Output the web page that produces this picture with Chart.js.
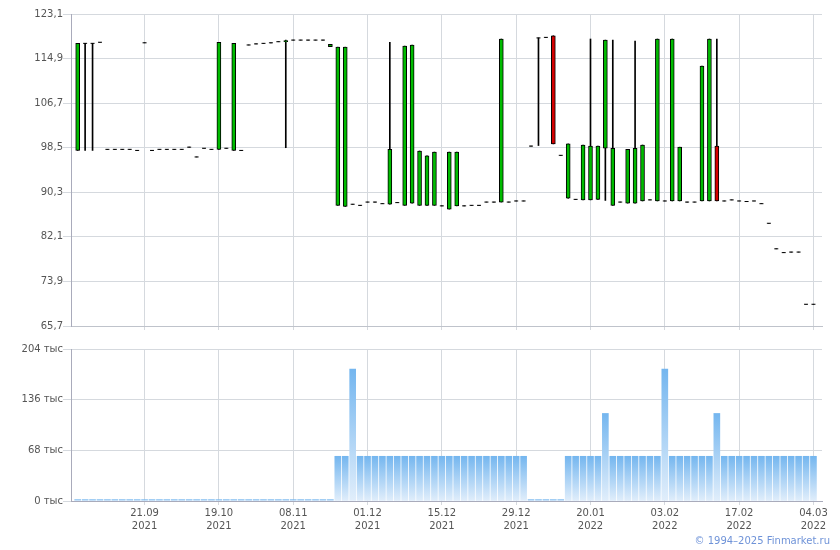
<!DOCTYPE html>
<html>
<head>
<meta charset="utf-8">
<script src="https://cdn.jsdelivr.net/npm/chart.js@4.4.1/dist/chart.umd.min.js"></script>
<style>
    html, body { margin: 0; padding: 0; background: #fff; }
    #wrap { position: relative; width: 840px; height: 550px; }
    #priceBox { position: absolute; left: 0; top: 0; width: 840px; height: 340px; }
    #volBox { position: absolute; left: 0; top: 340px; width: 840px; height: 210px; }
    #copy { position: absolute; right: 10px; top: 535px; font: 10px "DejaVu Sans", sans-serif; color: #6f93d8; }
</style>
</head>
<body>
<div id="wrap">
    <div id="priceBox"><canvas id="priceChart"></canvas></div>
    <div id="volBox"><canvas id="volumeChart"></canvas></div>
    <div id="copy">© 1994–2025 Finmarket.ru</div>
</div>
<script>
// Daily candles (one per trading session), oldest first
const open = [
    98.0, 117.7, 117.7, 117.9, 98.2, 98.2, 98.2, 98.2, 98.0, 117.8,
    98.0, 98.2, 98.2, 98.2, 98.2, 98.6, 96.8, 98.4, 98.2, 98.2,
    98.4, 98.0, 98.0, 117.4, 117.6, 117.7, 117.8, 118.0, 118.0, 118.3,
    118.3, 118.3, 118.3, 118.3, 117.1, 87.9, 87.7, 88.1, 87.9, 88.5,
    88.5, 88.2, 88.1, 88.4, 87.9, 88.3, 87.9, 87.9, 87.9, 87.8,
    87.2, 87.8, 87.8, 87.9, 87.9, 88.5, 88.5, 88.5, 88.5, 88.7,
    88.7, 98.8, 118.7, 118.8, 119.1, 97.1, 89.2, 89.0, 88.9, 88.9,
    89.0, 98.4, 87.9, 88.5, 88.3, 88.3, 88.7, 88.9, 88.7, 88.7,
    88.7, 88.7, 88.5, 88.5, 88.7, 88.7, 98.8, 88.7, 88.9, 88.7,
    88.6, 88.7, 88.2, 84.6, 79.9, 79.2, 79.3, 79.3, 69.7, 69.7
];
const high = [
    117.7, 117.7, 117.7, 117.9, 98.2, 98.2, 98.2, 98.2, 98.0, 117.8,
    98.0, 98.2, 98.2, 98.2, 98.2, 98.6, 96.8, 98.4, 98.2, 117.9,
    98.4, 117.7, 98.0, 117.4, 117.6, 117.7, 117.8, 118.0, 118.3, 118.3,
    118.3, 118.3, 118.3, 118.3, 117.5, 117.0, 117.0, 88.1, 87.9, 88.5,
    88.5, 88.2, 117.9, 88.4, 117.2, 117.4, 97.9, 97.0, 97.7, 87.8,
    97.7, 97.7, 87.8, 87.9, 87.9, 88.5, 88.5, 118.5, 88.5, 88.7,
    88.7, 98.8, 118.7, 118.8, 119.1, 97.1, 99.2, 89.0, 99.0, 118.5,
    98.8, 118.3, 118.3, 88.5, 98.2, 118.1, 99.0, 88.9, 118.5, 88.7,
    118.5, 98.6, 88.5, 88.5, 113.5, 118.5, 118.5, 88.7, 88.9, 88.7,
    88.6, 88.7, 88.2, 84.6, 79.9, 79.2, 79.3, 79.3, 69.7, 69.7
];
const low = [
    98.0, 98.0, 98.0, 117.9, 98.2, 98.2, 98.2, 98.2, 98.0, 117.8,
    98.0, 98.2, 98.2, 98.2, 98.2, 98.6, 96.8, 98.4, 98.2, 98.2,
    98.4, 98.0, 98.0, 117.4, 117.6, 117.7, 117.8, 118.0, 98.5, 118.3,
    118.3, 118.3, 118.3, 118.3, 117.1, 87.9, 87.7, 88.1, 87.9, 88.5,
    88.5, 88.2, 88.1, 88.4, 87.9, 88.3, 87.9, 87.9, 87.9, 87.8,
    87.2, 87.8, 87.8, 87.9, 87.9, 88.5, 88.5, 88.5, 88.5, 88.7,
    88.7, 98.8, 98.9, 118.8, 99.2, 97.1, 89.2, 89.0, 88.9, 88.9,
    89.0, 88.8, 87.9, 88.5, 88.3, 88.3, 88.7, 88.9, 88.7, 88.7,
    88.7, 88.7, 88.5, 88.5, 88.7, 88.7, 88.7, 88.7, 88.9, 88.7,
    88.6, 88.7, 88.2, 84.6, 79.9, 79.2, 79.3, 79.3, 69.7, 69.7
];
const close = [
    117.7, 117.7, 117.7, 117.9, 98.2, 98.2, 98.2, 98.2, 98.0, 117.8,
    98.0, 98.2, 98.2, 98.2, 98.2, 98.6, 96.8, 98.4, 98.2, 117.9,
    98.4, 117.7, 98.0, 117.4, 117.6, 117.7, 117.8, 118.0, 118.2, 118.3,
    118.3, 118.3, 118.3, 118.3, 117.5, 117.0, 117.0, 88.1, 87.9, 88.5,
    88.5, 88.2, 98.2, 88.4, 117.2, 117.4, 97.9, 97.0, 97.7, 87.8,
    97.7, 97.7, 87.8, 87.9, 87.9, 88.5, 88.5, 118.5, 88.5, 88.7,
    88.7, 98.8, 118.7, 118.8, 99.2, 97.1, 99.2, 89.0, 99.0, 98.8,
    98.8, 118.3, 98.4, 88.5, 98.2, 98.4, 99.0, 88.9, 118.5, 88.7,
    118.5, 98.6, 88.5, 88.5, 113.5, 118.5, 88.7, 88.7, 88.9, 88.7,
    88.6, 88.7, 88.2, 84.6, 79.9, 79.2, 79.3, 79.3, 69.7, 69.7
];
// Volume, thousands
const volume = [
    1.8, 1.8, 1.8, 1.8, 1.8, 1.8, 1.8, 1.8, 1.8, 1.8,
    1.8, 1.8, 1.8, 1.8, 1.8, 1.8, 1.8, 1.8, 1.8, 1.8,
    1.8, 1.8, 1.8, 1.8, 1.8, 1.8, 1.8, 1.8, 1.8, 1.8,
    1.8, 1.8, 1.8, 1.8, 1.8, 60, 60, 177, 60, 60,
    60, 60, 60, 60, 60, 60, 60, 60, 60, 60,
    60, 60, 60, 60, 60, 60, 60, 60, 60, 60,
    60, 1.8, 1.8, 1.8, 1.8, 1.8, 60, 60, 60, 60,
    60, 117.5, 60, 60, 60, 60, 60, 60, 60, 177,
    60, 60, 60, 60, 60, 60, 117.5, 60, 60, 60,
    60, 60, 60, 60, 60, 60, 60, 60, 60, 60
];

// Axis labels
const tickDates = ['21.09.2021', '19.10.2021', '08.11.2021', '01.12.2021', '15.12.2021',
    '29.12.2021', '20.01.2022', '03.02.2022', '17.02.2022', '04.03.2022'];
const tickBars = [9, 19, 29, 39, 49, 59, 69, 79, 89, 99]; // session number of each date label
const priceTicks = [65.7, 73.9, 82.1, 90.3, 98.5, 106.7, 114.9, 123.1];
const volumeTicks = [0, 68, 136, 204];

const gridColor = '#d5d9de';
const axisColor = '#a9abbb';
const labelFont = { family: 'DejaVu Sans', size: 10, lineHeight: 1.3 };
const labelColor = '#555';
const xMin = -0.9, xMax = 100.15;

// build the datasets
const bodies = [], flats = [], wicks = [], bodyColors = [];
open.forEach((o, i) => {
    const c = close[i];
    wicks.push({ x: i, y: [low[i], high[i]] });
    if (o === c) {
        bodies.push({ x: i, y: null });
        flats.push({ x: i, y: c });
    } else {
        bodies.push({ x: i, y: [o, c] });
        flats.push({ x: i, y: null });
    }
    bodyColors.push(c >= o ? '#00bb00' : '#d40000');
});
const volumes = volume.map((v, i) => ({ x: i, y: v }));

function xAxis(height, showLabels, border) {
    return {
        type: 'linear',
        min: xMin,
        max: xMax,
        offset: false,
        afterBuildTicks: scale => { scale.ticks = tickBars.map(v => ({ value: v })); },
        afterFit: scale => { scale.height = height; },
        ticks: {
            display: showLabels,
            autoSkip: false,
            maxRotation: 0,
            padding: 2,
            color: labelColor,
            font: labelFont,
            callback: (value, index) => {
                const d = tickDates[index];
                return [d.slice(0, 5), d.slice(6)];
            }
        },
        grid: { color: gridColor, tickLength: 4, offset: false },
        border: { color: border }
    };
}

function yAxis(min, max, tickList, format) {
    return {
        min: min,
        max: max,
        afterBuildTicks: scale => { scale.ticks = tickList.map(v => ({ value: v })); },
        afterFit: scale => { scale.width = 71; },
        ticks: { padding: 0, color: labelColor, font: labelFont, callback: format },
        grid: { color: gridColor, tickLength: 8 },
        border: { color: axisColor }
    };
}

new Chart(document.getElementById('priceChart'), {
    type: 'bar',
    data: {
        datasets: [{
            label: 'body',
            data: bodies,
            backgroundColor: bodyColors,
            borderColor: '#000',
            borderWidth: 1,
            borderSkipped: false,
            barThickness: 4,
            grouped: false,
            order: 0
        }, {
            type: 'line',
            label: 'flat',
            data: flats,
            showLine: false,
            pointStyle: 'line',
            pointRadius: 2,
            pointHoverRadius: 2,
            pointBorderWidth: 1,
            pointBorderColor: '#000',
            order: 1
        }, {
            label: 'wick',
            data: wicks,
            backgroundColor: '#000',
            barThickness: 1,
            grouped: false,
            order: 2
        }]
    },
    options: {
        responsive: true,
        maintainAspectRatio: false,
        animation: false,
        layout: { padding: { top: 14, right: 18, left: 0, bottom: 0 } },
        plugins: { legend: { display: false }, tooltip: { enabled: false } },
        scales: {
            x: xAxis(14, false, '#bfc3cb'),
            y: yAxis(65.7, 123.1, priceTicks, v => v.toFixed(1).replace('.', ','))
        }
    }
});

new Chart(document.getElementById('volumeChart'), {
    type: 'bar',
    data: {
        datasets: [{
            label: 'volume',
            data: volumes,
            barThickness: 6,
            grouped: false,
            backgroundColor: ctx => {
                const chart = ctx.chart;
                const y = chart.scales.y;
                if (!y || ctx.raw == null) return '#8cc4f2';
                const top = y.getPixelForValue(ctx.raw.y);
                const bottom = y.getPixelForValue(0);
                if (!isFinite(top) || bottom - top < 1) return '#8cc4f2';
                const g = chart.ctx.createLinearGradient(0, top, 0, bottom);
                g.addColorStop(0, '#74b6ef');
                g.addColorStop(1, '#e1eefb');
                return g;
            }
        }]
    },
    options: {
        responsive: true,
        maintainAspectRatio: false,
        animation: false,
        layout: { padding: { top: 9, right: 18, left: 0, bottom: 0 } },
        plugins: { legend: { display: false }, tooltip: { enabled: false } },
        scales: {
            x: xAxis(49, true, axisColor),
            y: yAxis(0, 204, volumeTicks, v => v + ' тыс')
        }
    }
});
</script>
</body>
</html>
